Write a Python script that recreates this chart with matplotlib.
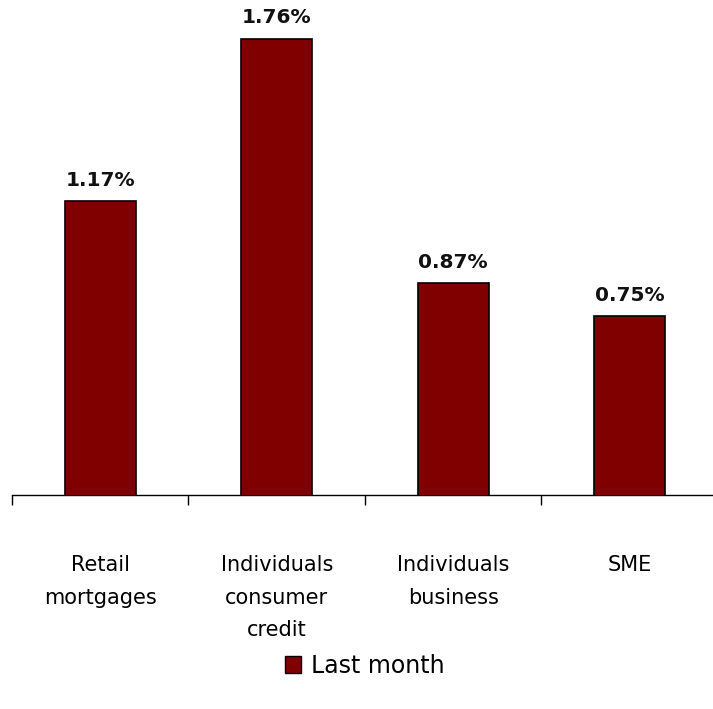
import matplotlib
matplotlib.use("Agg")
import matplotlib.pyplot as plt
from matplotlib.patches import Patch

categories = ["Retail\nmortgages", "Individuals\nconsumer\ncredit", "Individuals\nbusiness", "SME"]
values = [1.17, 1.76, 0.87, 0.75]
value_labels = ["1.17%", "1.76%", "0.87%", "0.75%"]
series_name = "Last month"

plt.rcParams['font.family'] = ['DejaVu Sans']

fig = plt.figure(figsize=(7.13, 7.09), dpi=100)
ax = fig.add_axes([12/713, 1 - 495/709, 706/713, 495/709])

x = list(range(len(categories)))
ax.bar(x, values, width=0.4, color="#800000", edgecolor="black", linewidth=1.2, zorder=3)

for xi, v, lab in zip(x, values, value_labels):
    ax.annotate(lab, (xi, v), xytext=(0, 8), textcoords="offset points",
                ha="center", va="bottom", fontsize=14.5, fontweight="bold", color="#111111")

ax.set_xlim(-0.5, 3.5)
ax.set_ylim(0.1, 1.9)

for s in ["top", "right", "left"]:
    ax.spines[s].set_visible(False)
ax.spines["bottom"].set_linewidth(1.0)
ax.set_yticks([])

ax.set_xticks(x)
ax.set_xticklabels(categories, fontsize=15, linespacing=1.8)
ax.tick_params(axis="x", which="major", length=0, pad=43)
ax.set_xticks([-0.5, 0.5, 1.5, 2.5, 3.5], minor=True)
ax.tick_params(axis="x", which="minor", length=7, width=1.0, direction="out")

handle = Patch(facecolor="#800000", edgecolor="black", linewidth=1.0)
fig.legend([handle], [series_name], loc="center", bbox_to_anchor=(0.511, 1 - 666/709),
           frameon=False, fontsize=17, handlelength=0.7, handleheight=0.7, handletextpad=0.4)

fig.savefig("out.png", dpi=100)
